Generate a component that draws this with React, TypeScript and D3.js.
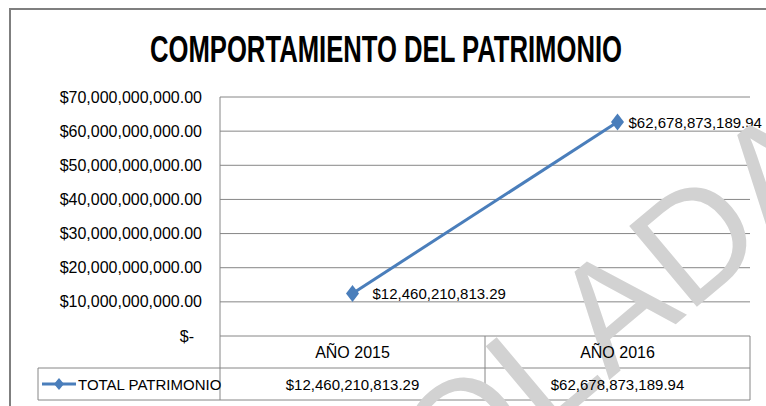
import React from 'react';
import * as d3 from 'd3';

// chart values
const categories = ['AÑO 2015', 'AÑO 2016'];
const patrimonio = [12460210813.29, 62678873189.94];
const seriesName = 'TOTAL PATRIMONIO';
const yTicks = [0, 10e9, 20e9, 30e9, 40e9, 50e9, 60e9, 70e9];
const title = 'COMPORTAMIENTO DEL PATRIMONIO';
const watermark = 'COPIA NO CONTROLADA';

const W = 766;
const H = 406;
const plot = { left: 220, right: 750, top: 97, bottom: 336 };
const rowH = 32;
const blue = '#4a7ebb';
const gray = '#868686';
const font = '"Liberation Sans", Arial, sans-serif';

const money = d3.format(',.2f');
const fmt = (v: number) => (v === 0 ? '$-' : '$' + money(v));

function diamond(cx: number, cy: number, hw: number, hh: number) {
  return `M${cx},${cy - hh}L${cx + hw},${cy}L${cx},${cy + hh}L${cx - hw},${cy}Z`;
}

export default function App() {
  const x = d3.scaleBand().domain(categories).range([plot.left, plot.right]);
  const y = d3.scaleLinear().domain([0, 70e9]).range([plot.bottom, plot.top]);
  const cx = (c: string) => (x(c) as number) + x.bandwidth() / 2;

  const line = d3
    .line<number>()
    .x((d, i) => cx(categories[i]))
    .y((d) => y(d));

  const row1 = plot.bottom + rowH;
  const row2 = row1 + rowH;
  const legendLeft = 38;

  return (
    <svg width={W} height={H} style={{ position: 'absolute', left: 0, top: 0 }} fontFamily={font}>
      <rect width={W} height={H} fill="#fff" />
      {/* chart border */}
      <path d={`M10,${H}V9H${W}`} fill="none" stroke="#7f7f7f" strokeWidth={2} />

      <text x={386} y={61.5} textAnchor="middle" fontSize={37} fontWeight="bold" textLength={472} lengthAdjust="spacingAndGlyphs" fill="#000">
        {title}
      </text>

      {/* gridlines + y labels */}
      {yTicks.map((t) => (
        <g key={t}>
          <line x1={plot.left} x2={plot.right} y1={y(t)} y2={y(t)} stroke={gray} strokeWidth={1} />
          <text x={t === 0 ? 194 : 202} y={y(t)} dy="0.35em" textAnchor="end" fontSize={16} fill="#000">
            {fmt(t)}
          </text>
        </g>
      ))}

      {/* data table */}
      <g stroke={gray} strokeWidth={1} fill="none">
        <line x1={plot.left} x2={plot.left} y1={plot.top} y2={row2} />
        <line x1={legendLeft} x2={plot.right} y1={row1} y2={row1} />
        <line x1={legendLeft} x2={plot.right} y1={row2} y2={row2} />
        <line x1={legendLeft} x2={legendLeft} y1={row1} y2={row2} />
        {categories.map((c) => (
          <line key={c} x1={(x(c) as number) + x.bandwidth()} x2={(x(c) as number) + x.bandwidth()} y1={plot.bottom} y2={row2} />
        ))}
      </g>

      {/* series */}
      <path d={line(patrimonio) || ''} fill="none" stroke={blue} strokeWidth={3} />
      {patrimonio.map((v, i) => (
        <g key={i}>
          <path d={diamond(cx(categories[i]), y(v), 6.5, 8.5)} fill={blue} />
          <text x={cx(categories[i]) + (i === 0 ? 20 : 11)} y={y(v)} dy="0.38em" fontSize={15} fill="#000">
            {'$' + money(v)}
          </text>
        </g>
      ))}

      {/* watermark */}
      <text x={0} y={0} transform="translate(850,178) rotate(-40)" textAnchor="end" fontSize={153} fill="#d2d2d2">
        {watermark}
      </text>

      {categories.map((c, i) => (
        <g key={c} fontSize={16} textAnchor="middle" fill="#000">
          <text x={cx(c)} y={plot.bottom + rowH / 2} dy="0.38em">{c}</text>
          <text x={cx(c)} y={row1 + rowH / 2} dy="0.38em" fontSize={15}>{'$' + money(patrimonio[i])}</text>
        </g>
      ))}

      {/* legend key */}
      <line x1={42} x2={76} y1={row1 + rowH / 2} y2={row1 + rowH / 2} stroke={blue} strokeWidth={3} />
      <path d={diamond(59, row1 + rowH / 2, 5, 6)} fill={blue} />
      <text x={78} y={row1 + rowH / 2} dy="0.38em" fontSize={15} fill="#000">{seriesName}</text>
    </svg>
  );
}
